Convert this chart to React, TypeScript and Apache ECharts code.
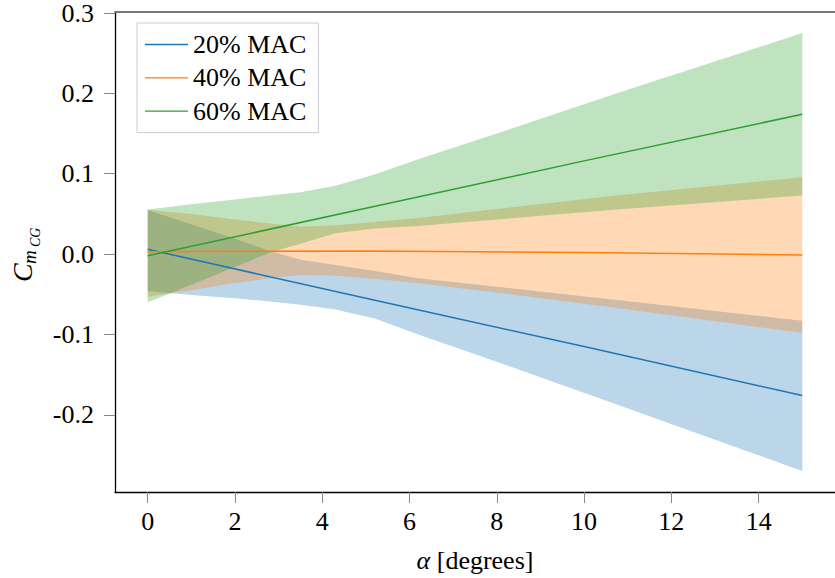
import React, { useEffect, useRef } from "react";
import * as echarts from "echarts";

// angle of attack samples (degrees) where the band edges were read
const alpha = [0, 1, 2, 2.8, 3.5, 4.3, 5.2, 6.2, 8, 10.75, 15];

// 20% MAC band
const blueUpper = [0.055, 0.037, 0.019, 0.004, -0.007, -0.0136, -0.021, -0.03, -0.0407, -0.057, -0.083];
const blueLower = [-0.046, -0.051, -0.055, -0.059, -0.063, -0.069, -0.08, -0.1, -0.134, -0.187, -0.27];
// 40% MAC band
const orangeUpper = [0.055, 0.05, 0.043, 0.038, 0.034, 0.036, 0.04, 0.045, 0.056, 0.073, 0.0955];
const orangeLower = [-0.053, -0.045, -0.036, -0.03, -0.026, -0.027, -0.031, -0.036, -0.048, -0.067, -0.098];
// 60% MAC band
const greenUpper = [0.0556, 0.062, 0.068, 0.073, 0.077, 0.085, 0.099, 0.118, 0.15, 0.2, 0.275];
const greenLower = [-0.06, -0.038, -0.016, 0.002, 0.013, 0.026, 0.032, 0.035, 0.043, 0.0556, 0.0728];

// mean curves
const meanAlpha = [0, 5, 10, 15];
const blueMean = [0.006, -0.055, -0.115, -0.176];
const orangeMean = [0.003, 0.004, 0.002, -0.001];
const greenMean = [-0.002, 0.057, 0.116, 0.174];

const seriesNames = ["20% MAC", "40% MAC", "60% MAC"];
const xTicks = [0, 2, 4, 6, 8, 10, 12, 14];
const yTicks = [-0.2, -0.1, 0, 0.1, 0.2, 0.3];

const FONT = "Liberation Serif";
const FS = 26;
const C_BLUE = "#1f77b4";
const C_ORANGE = "#ff7f0e";
const C_GREEN = "#2ca02c";

function bandSeries(name: string, upper: number[], lower: number[], fill: string) {
  return {
    type: "custom",
    name,
    silent: true,
    z: 1,
    data: alpha.map((a, i) => [a, upper[i], lower[i]]),
    encode: { x: 0, y: [1, 2] },
    renderItem: (params: any, api: any) => {
      if (params.dataIndex !== 0) return null;
      const pts: number[][] = [];
      for (let i = 0; i < alpha.length; i++) pts.push(api.coord([alpha[i], upper[i]]));
      for (let i = alpha.length - 1; i >= 0; i--) pts.push(api.coord([alpha[i], lower[i]]));
      return { type: "polygon", shape: { points: pts }, style: { fill } };
    },
  };
}

function lineSeries(name: string, values: number[], color: string) {
  return {
    type: "line",
    name,
    z: 5,
    symbol: "none",
    data: meanAlpha.map((a, i) => [a, values[i]]),
    lineStyle: { color, width: 1.5 },
    itemStyle: { color },
  };
}

export default function App() {
  const ref = useRef<HTMLDivElement>(null);
  useEffect(() => {
    if (!ref.current) return;
    const chart = echarts.init(ref.current, undefined, { renderer: "svg" });
    const xMin = -0.75;
    const xMax = 15.75;
    chart.setOption({
      animation: false,
      backgroundColor: "#ffffff",
      textStyle: { fontFamily: FONT },
      grid: { left: 115, top: 8, width: 724, height: 484, containLabel: false },
      legend: {
        data: seriesNames,
        orient: "vertical",
        left: 137,
        top: 23,
        icon: "rect",
        itemWidth: 43,
        itemHeight: 1.3,
        itemGap: 7.3,
        padding: [8.5, 12, 8.5, 8],
        borderColor: "#cccccc",
        borderWidth: 1,
        backgroundColor: "#ffffff",
        textStyle: { fontSize: FS, fontFamily: FONT, color: "#000", lineHeight: 26 },
      },
      xAxis: [
        {
          type: "value",
          min: xMin,
          max: xMax,
          position: "bottom",
          splitLine: { show: false },
          axisLine: { show: true, onZero: false, lineStyle: { color: "#000", width: 1.3 } },
          axisTick: { show: true, length: 11, customValues: xTicks, lineStyle: { color: "#888" } },
          axisLabel: {
            customValues: xTicks,
            fontSize: FS,
            fontFamily: FONT,
            color: "#000",
            margin: 16,
          },
          name: "{a|α} [degrees]",
          nameLocation: "middle",
          nameGap: 55,
          nameTextStyle: {
            fontSize: FS,
            fontFamily: FONT,
            color: "#000",
            rich: { a: { fontSize: FS, fontFamily: FONT, fontStyle: "italic", color: "#000" } },
          },
        },
        {
          type: "value",
          min: xMin,
          max: xMax,
          position: "top",
          splitLine: { show: false },
          axisLine: { show: true, onZero: false, lineStyle: { color: "#777", width: 1.8 } },
          axisTick: { show: false },
          axisLabel: { show: false },
        },
      ],
      yAxis: {
        type: "value",
        min: -0.296,
        max: 0.3016,
        splitLine: { show: false },
        axisLine: { show: true, onZero: false, lineStyle: { color: "#000", width: 1.3 } },
        axisTick: { show: true, length: 11, customValues: yTicks, lineStyle: { color: "#888" } },
        axisLabel: {
          customValues: yTicks,
          fontSize: FS,
          fontFamily: FONT,
          color: "#000",
          margin: 21,
          formatter: (v: number) => v.toFixed(1),
        },
      },
      graphic: [
        {
          type: "group",
          x: 32,
          y: 252,
          rotation: Math.PI / 2,
          children: [
            {
              type: "text",
              x: -30,
              y: -9.5,
              style: { text: "C", fontSize: 28, fontStyle: "italic", fontFamily: FONT, fill: "#000", verticalAlign: "middle" },
            },
            {
              type: "text",
              x: -12,
              y: -2.5,
              style: { text: "m", fontSize: 19, fontStyle: "italic", fontFamily: FONT, fill: "#000", verticalAlign: "middle" },
            },
            {
              type: "text",
              x: 5,
              y: 3.2,
              style: { text: "CG", fontSize: 14, fontStyle: "italic", fontFamily: FONT, fill: "#000", verticalAlign: "middle" },
            },
          ],
        },
      ],
      series: [
        bandSeries("band20", blueUpper, blueLower, "rgba(31,119,180,0.3)"),
        bandSeries("band40", orangeUpper, orangeLower, "rgba(255,127,14,0.3)"),
        bandSeries("band60", greenUpper, greenLower, "rgba(44,160,44,0.3)"),
        lineSeries(seriesNames[0], blueMean, C_BLUE),
        lineSeries(seriesNames[1], orangeMean, C_ORANGE),
        lineSeries(seriesNames[2], greenMean, C_GREEN),
      ],
    });
    return () => chart.dispose();
  }, []);
  return (
    <div
      ref={ref}
      style={{ position: "absolute", left: 0, top: 0, width: 835, height: 578 }}
    />
  );
}
